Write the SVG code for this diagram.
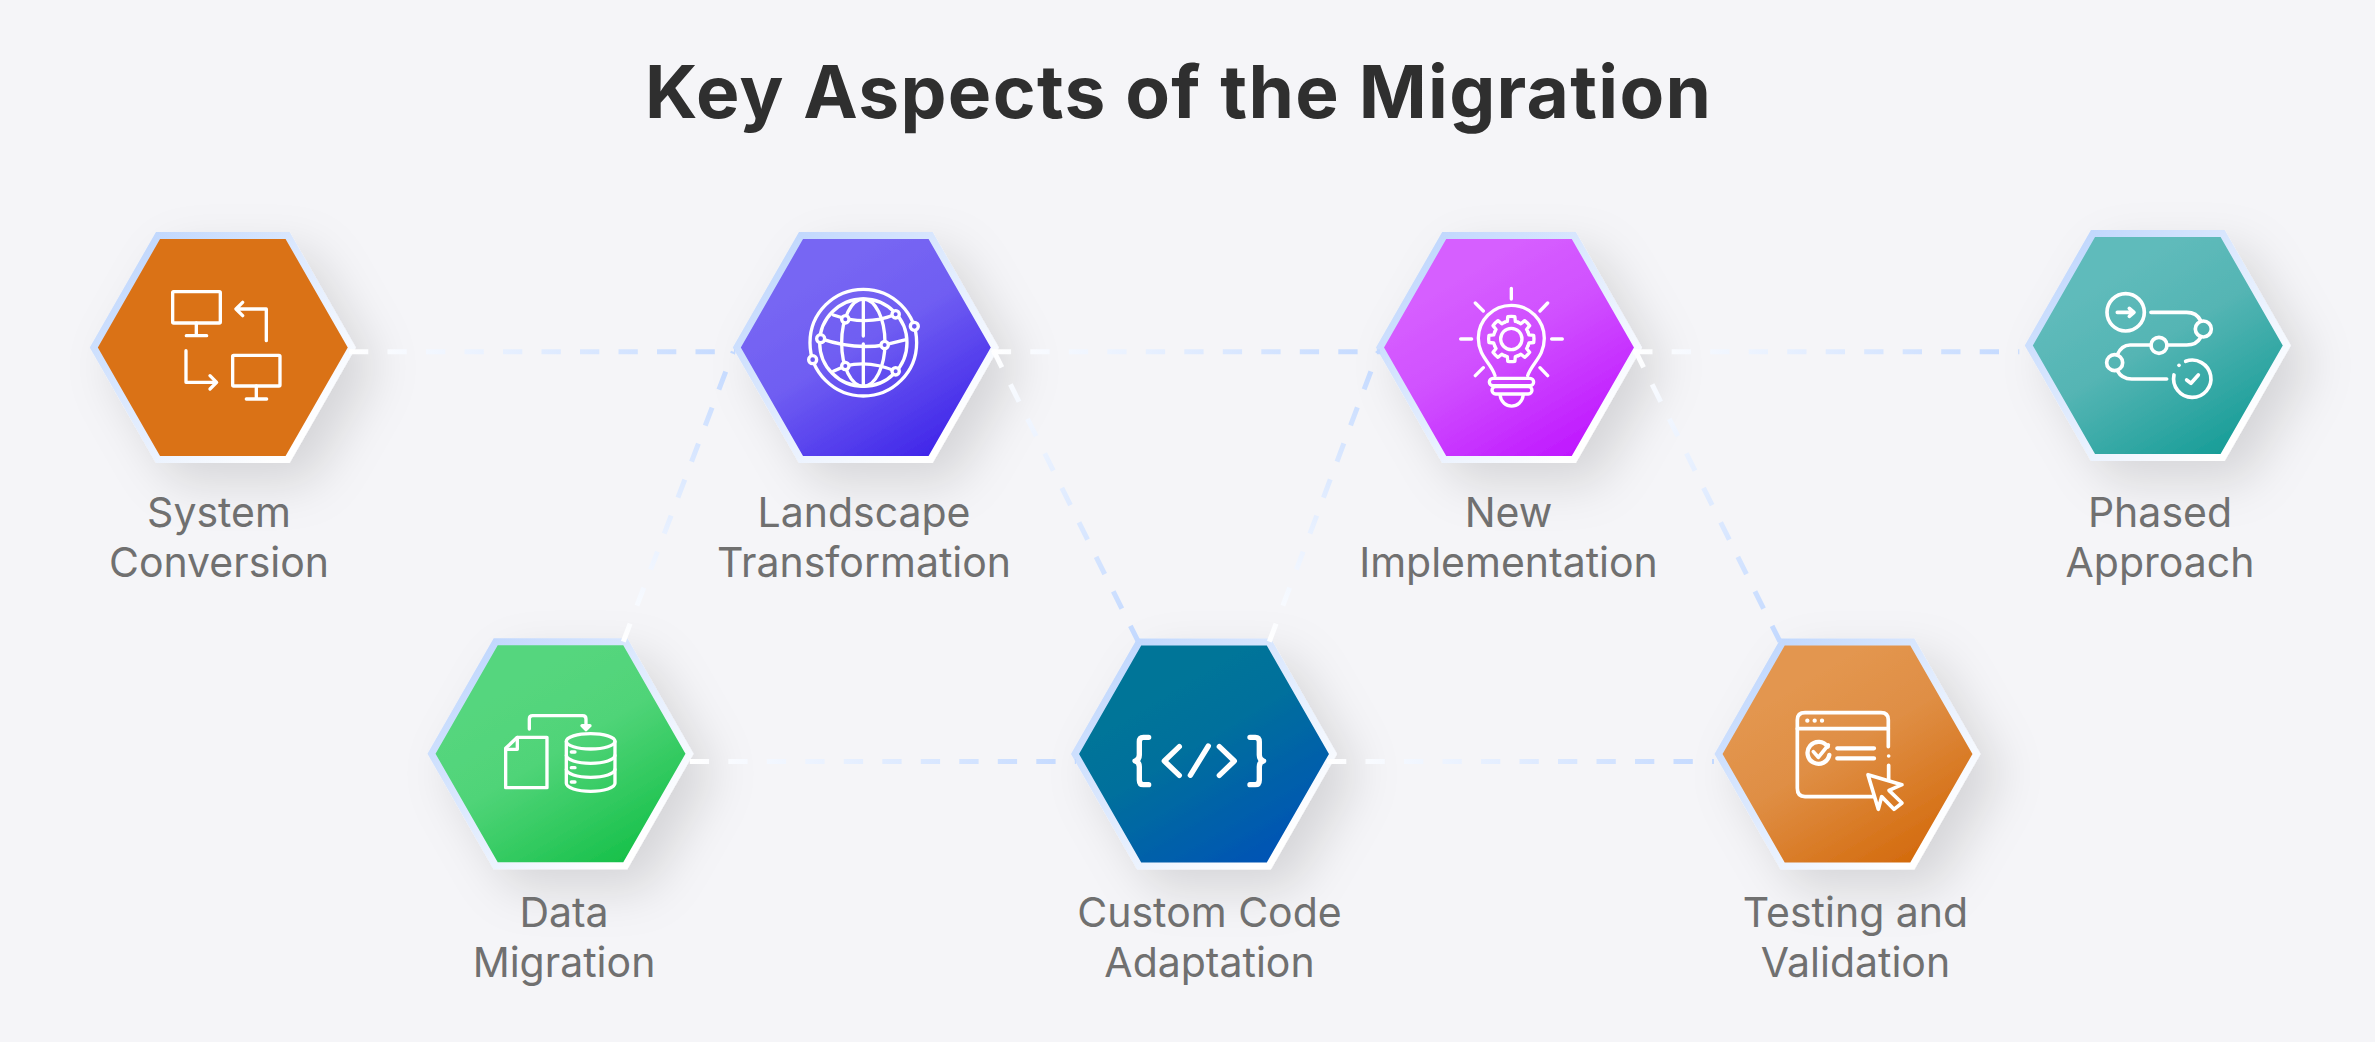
<svg xmlns="http://www.w3.org/2000/svg" width="2375" height="1042" viewBox="0 0 2375 1042">
<style>
.hex{stroke:url(#edge);stroke-width:7;stroke-linejoin:miter}
.ic{fill:none;stroke:#fff;stroke-width:10;stroke-linecap:round;stroke-linejoin:round}
.lb{font-family:"Inter","Liberation Sans",sans-serif;font-size:41px;fill:#707070;text-anchor:middle}
.ttl{font-family:"Inter","Liberation Sans",sans-serif;font-weight:700;font-size:73px;fill:#2f2f2f;text-anchor:middle}
.cn{fill:none;stroke-width:5;stroke-dasharray:19.3 19.2}
</style>
<defs>
<polygon id="h" points="-129,0 -64.8,-112 64.8,-112 129,0 64.8,112 -64.8,112"/>
<path id="tooth" d="M-20.7,-49.9 A54,54 0 0 1 -12.1,-52.6 L-10.6,-67.2 A68,68 0 0 1 10.6,-67.2 L12.1,-52.6 A54,54 0 0 1 20.7,-49.9"/>
<filter id="sh" x="-50%" y="-50%" width="220%" height="220%"><feDropShadow dx="20" dy="20" stdDeviation="24" flood-color="#000" flood-opacity=".13"/></filter>
<linearGradient id="edge" x1="0" y1="0" x2="1" y2="1"><stop offset="0" stop-color="#b8d2fd"/><stop offset=".85" stop-color="#fff"/></linearGradient>
<linearGradient id="g2" x1=".3" y1=".2" x2=".85" y2="1"><stop offset="0" stop-color="#7766f3"/><stop offset=".35" stop-color="#6f5df2"/><stop offset="1" stop-color="#3a1fe8"/></linearGradient>
<linearGradient id="g3" x1=".3" y1=".2" x2=".85" y2="1"><stop offset="0" stop-color="#d65eff"/><stop offset=".35" stop-color="#d050ff"/><stop offset="1" stop-color="#bd10ff"/></linearGradient>
<linearGradient id="g4" x1=".3" y1=".2" x2=".85" y2="1"><stop offset="0" stop-color="#5fbbbb"/><stop offset=".35" stop-color="#55b5b4"/><stop offset="1" stop-color="#109a94"/></linearGradient>
<linearGradient id="g5" x1=".3" y1=".2" x2=".85" y2="1"><stop offset="0" stop-color="#55d67e"/><stop offset=".35" stop-color="#50d478"/><stop offset="1" stop-color="#10be44"/></linearGradient>
<linearGradient id="g6" x1=".3" y1=".2" x2=".85" y2="1"><stop offset="0" stop-color="#027598"/><stop offset=".3" stop-color="#02709c"/><stop offset="1" stop-color="#0150b8"/></linearGradient>
<linearGradient id="g7" x1=".3" y1=".2" x2=".85" y2="1"><stop offset="0" stop-color="#e3964f"/><stop offset=".35" stop-color="#df8e44"/><stop offset="1" stop-color="#d26606"/></linearGradient>
<linearGradient id="c1" gradientUnits="userSpaceOnUse" x1="349" y1="0" x2="735" y2="0"><stop offset="0" stop-color="#fff"/><stop offset="1" stop-color="#c3d9ff"/></linearGradient>
<linearGradient id="c2" gradientUnits="userSpaceOnUse" x1="992" y1="0" x2="1380" y2="0"><stop offset="0" stop-color="#fff"/><stop offset="1" stop-color="#c3d9ff"/></linearGradient>
<linearGradient id="c3" gradientUnits="userSpaceOnUse" x1="1633" y1="0" x2="2019" y2="0"><stop offset="0" stop-color="#fff"/><stop offset="1" stop-color="#c3d9ff"/></linearGradient>
<linearGradient id="c4" gradientUnits="userSpaceOnUse" x1="690" y1="0" x2="1076" y2="0"><stop offset="0" stop-color="#fff"/><stop offset="1" stop-color="#c3d9ff"/></linearGradient>
<linearGradient id="c5" gradientUnits="userSpaceOnUse" x1="1327" y1="0" x2="1714" y2="0"><stop offset="0" stop-color="#fff"/><stop offset="1" stop-color="#c3d9ff"/></linearGradient>
<linearGradient id="c6" gradientUnits="userSpaceOnUse" x1="623" y1="642" x2="733" y2="352"><stop offset="0" stop-color="#fff"/><stop offset="1" stop-color="#c3d9ff"/></linearGradient>
<linearGradient id="c7" gradientUnits="userSpaceOnUse" x1="993" y1="350" x2="1138" y2="642"><stop offset="0" stop-color="#fff"/><stop offset="1" stop-color="#c3d9ff"/></linearGradient>
<linearGradient id="c8" gradientUnits="userSpaceOnUse" x1="1269" y1="642" x2="1378" y2="352"><stop offset="0" stop-color="#fff"/><stop offset="1" stop-color="#c3d9ff"/></linearGradient>
<linearGradient id="c9" gradientUnits="userSpaceOnUse" x1="1635" y1="350" x2="1780" y2="642"><stop offset="0" stop-color="#fff"/><stop offset="1" stop-color="#c3d9ff"/></linearGradient>
</defs>
<rect width="2375" height="1042" fill="#f5f5f8"/>
<text id="title" class="ttl" x="1178" y="117.5" textLength="1066" lengthAdjust="spacing">Key Aspects of the Migration</text>

<g id="node-system-conversion">
<use href="#h" class="hex" fill="#da7219" filter="url(#sh)" transform="translate(222.8 347.5)"/>
<g class="ic" transform="translate(70 210) scale(.3333)">
<rect x="308" y="245" width="143" height="94" rx="3"/><path d="M379,339V377M349,377H410"/>
<rect x="488" y="436" width="142" height="92" rx="3"/><path d="M559,528V567M529,567H590"/>
<path d="M589,392V297H500M518,277L498,297L518,317"/>
<path d="M348,422V517H438M420,497L440,517L420,537"/>
</g>
<text class="lb" x="219" y="527">System</text><text class="lb" x="219" y="577">Conversion</text>
</g>

<g id="node-landscape-transformation">
<use href="#h" class="hex" fill="url(#g2)" filter="url(#sh)" transform="translate(865.8 347.5)"/>
<g class="ic" transform="translate(720 210) scale(.3333)">
<circle cx="430" cy="398" r="160"/><circle cx="430" cy="398" r="131"/>
<ellipse cx="430" cy="398" rx="65" ry="131"/>
<path d="M430,268V378M430,402V527"/>
<path d="M340,315Q440,350 527,313"/>
<path d="M302,386Q400,420 494,405L555,390"/>
<path d="M340,484L376,468Q450,450 527,484"/>
<g fill="#6a59f0"><circle cx="376" cy="328" r="11"/><circle cx="527" cy="313" r="11"/><circle cx="302" cy="386" r="12"/><circle cx="494" cy="405" r="11"/><circle cx="376" cy="468" r="11"/><circle cx="527" cy="484" r="11"/><circle cx="583" cy="349" r="12"/><circle cx="278" cy="449" r="12"/></g>
</g>
<text class="lb" x="864" y="527">Landscape</text><text class="lb" x="864" y="577">Transformation</text>
</g>

<g id="node-new-implementation">
<use href="#h" class="hex" fill="url(#g3)" filter="url(#sh)" transform="translate(1509 347.5)"/>
<g class="ic" transform="translate(1360 210) scale(.3333)">
<path d="M405,497C395,460 355,440 355,385A99,99 0 0 1 553,385C553,440 515,460 503,497"/>
<rect x="388" y="505" width="133" height="22" rx="11"/><rect x="396" y="530" width="120" height="22" rx="11"/>
<path d="M420,554C425,600 485,600 490,554"/>
<circle cx="454" cy="387" r="32"/>
<g transform="translate(454 387)"><use href="#tooth"/><use href="#tooth" transform="rotate(45)"/><use href="#tooth" transform="rotate(90)"/><use href="#tooth" transform="rotate(135)"/><use href="#tooth" transform="rotate(180)"/><use href="#tooth" transform="rotate(225)"/><use href="#tooth" transform="rotate(270)"/><use href="#tooth" transform="rotate(315)"/></g>
<path d="M454,235V267M302,387H335M575,387H607M346,279L370,303M563,279L540,303M346,497L370,473M563,497L540,473"/>
</g>
<text class="lb" x="1508.5" y="527">New</text><text class="lb" x="1508.5" y="577">Implementation</text>
</g>

<g id="node-phased-approach">
<use href="#h" class="hex" fill="url(#g4)" filter="url(#sh)" transform="translate(2157.8 345.5)"/>
<g class="ic" style="stroke-width:11" transform="translate(2010 210) scale(.3333)">
<circle cx="347" cy="307" r="56"/><path d="M322,307H368M358,295L372,307L358,319"/>
<path d="M423,307H530Q560,307 572,332"/><circle cx="580" cy="357" r="24"/>
<path d="M572,382Q560,405 530,405H471"/><circle cx="447" cy="406" r="24"/>
<path d="M423,405H360Q335,405 322,434"/><circle cx="314" cy="458" r="24"/>
<path d="M322,482Q335,507 365,507H470"/>
<path d="M527,454A56,56 0 1 1 492,495"/><path d="M507,466h.1"/>
<path d="M530,510L543,520L565,495"/>
</g>
<text class="lb" x="2160" y="527">Phased</text><text class="lb" x="2160" y="577">Approach</text>
</g>

<g id="node-data-migration">
<use href="#h" class="hex" fill="url(#g5)" filter="url(#sh)" transform="translate(560.5 753.7)"/>
<g class="ic" transform="translate(410 620) scale(.3333)">
<path d="M287,503V385L322,352H411V503Z"/><path d="M287,388H322V352"/>
<path d="M358,327V297Q358,287 368,287H518Q528,287 528,297V322"/><path d="M516,317H540L528,329Z" fill="#fff"/>
<ellipse cx="542" cy="364" rx="73" ry="23"/><path d="M469,364V490A73,24 0 0 0 615,490V364"/>
<path d="M469,406A73,24 0 0 0 615,406M469,448A73,24 0 0 0 615,448"/>
<path d="M484,396H495M484,443H495M484,486H495"/>
</g>
<text class="lb" x="564" y="927">Data</text><text class="lb" x="564" y="977">Migration</text>
</g>

<g id="node-custom-code-adaptation">
<use href="#h" class="hex" fill="url(#g6)" filter="url(#sh)" transform="translate(1204 754)"/>
<g class="ic" style="stroke-width:16" transform="translate(1060 620) scale(.3333)">
<path d="M266,352H250Q238,352 238,365V405Q238,420 225,423Q238,426 238,440V480Q238,494 250,494H266"/>
<path d="M570,352H586Q598,352 598,365V405Q598,420 611,423Q598,426 598,440V480Q598,494 586,494H570"/>
<path d="M358,380L313,423L358,466M445,378L391,466M478,380L523,423L478,466"/>
</g>
<text class="lb" x="1209.5" y="927">Custom Code</text><text class="lb" x="1209.5" y="977">Adaptation</text>
</g>

<g id="node-testing-and-validation">
<use href="#h" class="hex" fill="url(#g7)" filter="url(#sh)" transform="translate(1847.5 754)"/>
<g class="ic" style="stroke-width:11" transform="translate(1700 620) scale(.3333)">
<path d="M565,380V300Q565,278 543,278H315Q292,278 292,300V505Q292,530 315,530H522"/>
<path d="M292,326H565M566,436V480M566,408h.1"/>
<path d="M322,302h.1M344,302h.1M366,302h.1" style="stroke-width:13"/>
<path d="M383,380A33,33 0 1 0 388,405" style="stroke-width:13"/><path d="M340,395L355,412L385,375"/>
<path d="M412,385H522M412,415H522" style="stroke-width:13"/>
<path d="M504,464L606,494L567,511L606,549L582,568L545,530L535,568Z"/>
</g>
<text class="lb" x="1855.5" y="927">Testing and</text><text class="lb" x="1855.5" y="977">Validation</text>
</g>

<g id="connectors">
<line class="cn" x1="349" y1="351.7" x2="735" y2="351.7" stroke="url(#c1)"/>
<line class="cn" x1="991.8" y1="351.7" x2="1380" y2="351.7" stroke="url(#c2)"/>
<line class="cn" x1="1633.2" y1="351.7" x2="2019.3" y2="351.7" stroke="url(#c3)"/>
<line class="cn" x1="689.8" y1="761.5" x2="1076" y2="761.5" stroke="url(#c4)"/>
<line class="cn" x1="1327" y1="761.5" x2="1714" y2="761.5" stroke="url(#c5)"/>
<line class="cn" x1="623.3" y1="641.7" x2="733.3" y2="351.7" stroke="url(#c6)"/>
<line class="cn" x1="993.3" y1="350" x2="1138.3" y2="641.7" stroke="url(#c7)"/>
<line class="cn" x1="1269.3" y1="641.7" x2="1378.3" y2="351.7" stroke="url(#c8)"/>
<line class="cn" x1="1635" y1="350" x2="1780" y2="641.7" stroke="url(#c9)"/>
</g>
</svg>
